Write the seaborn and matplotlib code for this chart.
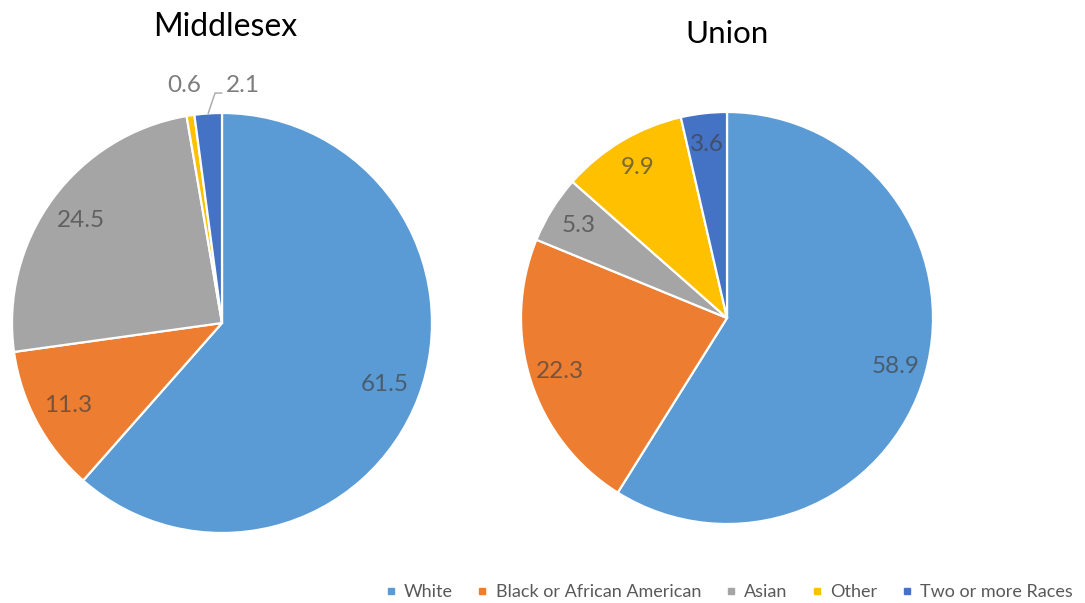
import numpy as np
import matplotlib
matplotlib.use("Agg")
import matplotlib.pyplot as plt
from matplotlib.lines import Line2D
import seaborn as sns

# Population share by race (%)
races = ["White", "Black or African American", "Asian", "Other", "Two or more Races"]
middlesex = [61.5, 11.3, 24.5, 0.6, 2.1]
union = [58.9, 22.3, 5.3, 9.9, 3.6]
counties = ["Middlesex", "Union"]

sns.set_theme(style="white")
plt.rcParams["font.family"] = ["Lato", "DejaVu Sans"]

palette = sns.color_palette(["#5B9BD5", "#ED7D31", "#A5A5A5", "#FFC000", "#4472C4"])
label_color = "#404040"

fig = plt.figure(figsize=(10.85, 6.03), dpi=100)


def draw_pie(ax, values, label_r, outside=None, leader=None):
    wedges, _ = ax.pie(values, colors=palette, startangle=90, counterclock=False,
                       radius=1.0, wedgeprops=dict(edgecolor="white", linewidth=1.6))
    outside = outside or {}
    for i, (w, v) in enumerate(zip(wedges, values)):
        if i in outside:
            x, y = outside[i]
        else:
            mid = np.deg2rad((w.theta1 + w.theta2) / 2)
            x, y = label_r * np.cos(mid), label_r * np.sin(mid)
        ax.text(x, y, f"{v:.1f}", ha="center", va="center", fontsize=17.5,
                color=label_color, alpha=0.68)
    if leader is not None:
        idx, (kx, ky), (ex, ey) = leader
        w = wedges[idx]
        mid = np.deg2rad((w.theta1 + w.theta2) / 2)
        ax.plot([np.cos(mid), kx, ex], [np.sin(mid), ky, ey], color="#A6A6A6",
                lw=1.0, clip_on=False)
    ax.set_xlim(-1, 1)
    ax.set_ylim(-1, 1)
    ax.set_aspect("equal")
    ax.axis("off")


W, H = 1085, 603


def pie_axes(cx, cy, r):
    return fig.add_axes([(cx - r) / W, (H - cy - r) / H, 2 * r / W, 2 * r / H])


ax1 = pie_axes(222, 323, 210)
draw_pie(ax1, middlesex, 0.83,
         outside={3: (-0.181, 1.129), 4: (0.10, 1.129)},
         leader=(4, (-0.033, 1.095), (0.0, 1.095)))

ax2 = pie_axes(727, 318, 206)
draw_pie(ax2, union, 0.85)

fig.text(225 / W, 1 - 36 / H, counties[0], ha="center", va="baseline",
         fontsize=23, color="black")
fig.text(727 / W, 1 - 43 / H, counties[1], ha="center", va="baseline",
         fontsize=22.5, color="black")

handles = [Line2D([0], [0], marker="s", linestyle="none", markersize=5,
                  markerfacecolor=c, markeredgecolor=c) for c in palette]
fig.legend(handles, races, loc="center right", bbox_to_anchor=(1073 / W, 1 - 592 / H),
           ncol=5, frameon=False, fontsize=13, handlelength=0.7,
           handletextpad=0.4, columnspacing=1.27, borderpad=0, borderaxespad=0,
           labelcolor="#595959")

fig.savefig("out.png", dpi=100, facecolor="white")
